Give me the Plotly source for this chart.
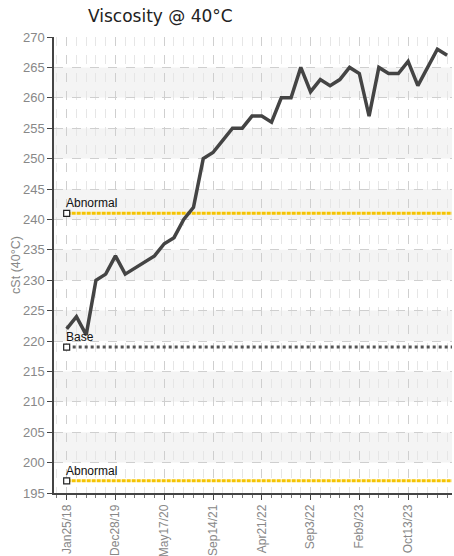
import plotly.graph_objects as go

# ---- data ----
sample_index = list(range(40))
viscosity = [222, 224, 221, 230, 231, 234, 231, 232, 233, 234,
             236, 237, 240, 242, 250, 251, 253, 255, 255, 257,
             257, 256, 260, 260, 265, 261, 263, 262, 263, 265,
             264, 257, 265, 264, 264, 266, 262, 265, 268, 267]
tick_positions = [0, 5, 10, 15, 20, 25, 30, 35]
tick_labels = ["Jan25/18", "Dec28/19", "May17/20", "Sep14/21",
               "Apr21/22", "Sep3/22", "Feb9/23", "Oct13/23"]
limit_names = ["Abnormal", "Base", "Abnormal"]
limit_values = [241, 219, 197]
limit_colors = ["#f5c400", "#555555", "#f5c400"]

y_min, y_max = 195, 270
x_lo, x_hi = -1.3, 39.5

narrow = "Liberation Sans, Arial, sans-serif"

fig = go.Figure()

# alternating background bands
shapes = []
for lo in range(y_min, y_max, 5):
    if (lo // 5) % 2 == 0:  # 200-205, 210-215, ... 260-265
        shapes.append(dict(type="rect", xref="paper", yref="y", x0=0, x1=1,
                           y0=lo, y1=lo + 5, fillcolor="#f4f4f4",
                           line=dict(width=0), layer="below"))

# limit lines
for name, val, col in zip(limit_names, limit_values, limit_colors):
    fig.add_trace(go.Scatter(
        x=[sample_index[0], x_hi], y=[val, val], mode="lines",
        line=dict(color=col, width=3, dash="dot" if name == "Base" else "4px,1px"),
        hoverinfo="skip", showlegend=False))
    fig.add_trace(go.Scatter(
        x=[sample_index[0]], y=[val], mode="markers",
        marker=dict(symbol="square", size=6, color="white",
                    line=dict(color="#222", width=1.2)),
        hoverinfo="skip", showlegend=False))
    fig.add_annotation(x=sample_index[0], y=val, text=name, showarrow=False,
                       xanchor="left", yanchor="bottom", xshift=-3, yshift=1,
                       font=dict(family=narrow, size=12, color="#111"))

# data line
fig.add_trace(go.Scatter(x=sample_index, y=viscosity, mode="lines",
                         line=dict(color="#444444", width=3.5),
                         showlegend=False))

fig.update_layout(
    width=454, height=556,
    margin=dict(l=54, r=2, t=37, b=63),
    paper_bgcolor="white", plot_bgcolor="white",
    shapes=shapes,
    title=dict(text="Viscosity @ 40°C", x=88 / 454, xref="container",
               xanchor="left", y=0.982, yanchor="top",
               font=dict(family="DejaVu Sans, Verdana, sans-serif", size=17, color="#222")),
)

fig.update_xaxes(
    range=[x_lo, x_hi], tickmode="array", tickvals=tick_positions,
    ticktext=tick_labels, tickangle=-90, showline=True, linecolor="#444",
    linewidth=1.5, ticks="outside", ticklen=5, tickcolor="#444",
    tickfont=dict(family=narrow, size=12, color="#888"),
    showgrid=True, gridcolor="#cfcfcf", griddash="dash", gridwidth=1,
    zeroline=False, automargin=False,
    minor=dict(dtick=1, tick0=0, ticks="outside", ticklen=3, tickcolor="#777",
               showgrid=True, gridcolor="#e6e6e6", griddash="dash"),
)
fig.update_yaxes(
    range=[y_min, y_max], dtick=5, tick0=195, showline=True, linecolor="#444",
    linewidth=1.5, ticks="outside", ticklen=5, tickcolor="#444",
    tickfont=dict(family=narrow, size=13, color="#888"),
    showgrid=True, gridcolor="#cfcfcf", griddash="dash", gridwidth=1,
    zeroline=False, automargin=False,
    title=dict(text="cSt (40°C)", standoff=0,
               font=dict(family=narrow, size=12.5, color="#888")),
)

fig.write_html("out.html", config={"displayModeBar": False},
               post_script="document.body.style.margin='0';")
